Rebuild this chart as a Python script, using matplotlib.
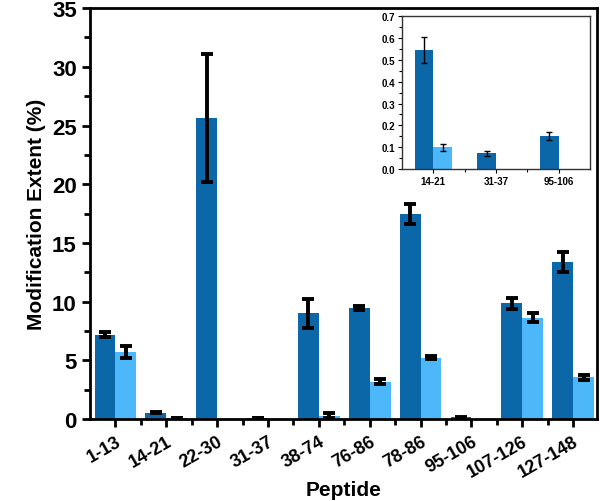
import numpy as np
import matplotlib.pyplot as plt
from matplotlib.ticker import MultipleLocator

plt.rcParams['font.family'] = ['Liberation Sans', 'DejaVu Sans']
plt.rcParams['font.weight'] = 'bold'

peptides = ['1-13', '14-21', '22-30', '31-37', '38-74', '76-86',
            '78-86', '95-106', '107-126', '127-148']
dark_vals = [7.2, 0.55, 25.6, 0.07, 9.0, 9.45, 17.5, 0.15, 9.85, 13.35]
dark_err = [0.2, 0.06, 5.45, 0.01, 1.2, 0.15, 0.85, 0.017, 0.45, 0.85]
light_vals = [5.7, 0.1, 0, 0, 0.3, 3.2, 5.25, 0, 8.65, 3.55]
light_err = [0.5, 0.015, 0, 0, 0.22, 0.18, 0.15, 0, 0.4, 0.25]

inset_peptides = ['14-21', '31-37', '95-106']
inset_dark = [0.545, 0.072, 0.152]
inset_dark_err = [0.06, 0.01, 0.017]
inset_light = [0.1, 0, 0]
inset_light_err = [0.015, 0, 0]

dark = '#0B67A8'
light = '#4CB8FA'

fig = plt.figure(figsize=(6, 5.02), dpi=100)
ax = fig.add_axes([0.15, 0.163, 0.845, 0.819])

x = np.arange(len(peptides))
w = 0.41
ekw = dict(elinewidth=2.8, capthick=2.8, ecolor='black')
ax.bar(x - w/2, dark_vals, w, color=dark, yerr=dark_err, capsize=4.5, error_kw=ekw)
lx = [xi + w/2 for xi, v in zip(x, light_vals) if v > 0]
lv = [v for v in light_vals if v > 0]
le = [e for e, v in zip(light_err, light_vals) if v > 0]
ax.bar(lx, lv, w, color=light, yerr=le, capsize=4.5, error_kw=ekw)

ax.set_xlim(-0.5, 9.47)
ax.set_ylim(0, 35)
ax.yaxis.set_major_locator(MultipleLocator(5))
ax.yaxis.set_minor_locator(MultipleLocator(2.5))
ax.set_xticks(x)
ax.set_xticks(x[:-1] + 0.5, minor=True)
ax.set_xticklabels(peptides, rotation=30, ha='right', rotation_mode='anchor',
                   fontsize=13, fontweight='bold')
for lab in ax.get_yticklabels():
    lab.set_fontsize(16)
    lab.set_fontweight('bold')
for s in ax.spines.values():
    s.set_linewidth(2)
ax.tick_params(which='major', length=6, width=2, direction='out')
ax.tick_params(which='minor', length=4, width=2, direction='out')
ax.set_xlabel('Peptide', fontsize=15, fontweight='bold', labelpad=0)
ax.set_ylabel('Modification Extent (%)', fontsize=15, fontweight='bold', labelpad=4)

# inset
ins = fig.add_axes([0.67, 0.661, 0.313, 0.305])
xi = np.arange(len(inset_peptides))
wi = 0.3
ekw2 = dict(elinewidth=1, capthick=1, ecolor='black')
ins.bar(xi - wi/2, inset_dark, wi, color=dark, yerr=inset_dark_err, capsize=2, error_kw=ekw2)
ins.bar([0 + wi/2], [inset_light[0]], wi, color=light, yerr=[inset_light_err[0]],
        capsize=2, error_kw=ekw2)
ins.set_xlim(-0.5, 2.5)
ins.set_ylim(0, 0.7)
ins.yaxis.set_major_locator(MultipleLocator(0.1))
ins.yaxis.set_minor_locator(MultipleLocator(0.05))
ins.set_xticks(xi)
ins.set_xticks([0.5, 1.5], minor=True)
ins.set_xticklabels(inset_peptides, fontsize=7, fontweight='bold')
ins.set_yticklabels([f'{v:.1f}' for v in ins.get_yticks()], fontsize=7, fontweight='bold')
for s in ins.spines.values():
    s.set_linewidth(1)
    s.set_color('#333333')
ins.tick_params(which='major', length=3, width=0.8, direction='out', pad=2)
ins.tick_params(which='minor', length=2, width=0.8, direction='out')

fig.savefig('out.png', dpi=100)
